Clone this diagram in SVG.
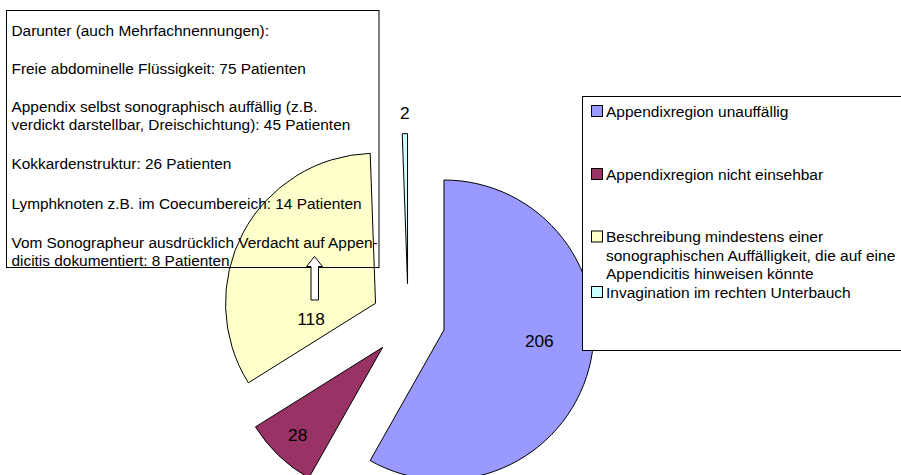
<svg xmlns="http://www.w3.org/2000/svg" width="901" height="475" viewBox="0 0 901 475">
<style>
.t{font-family:"Liberation Sans",Arial,sans-serif;font-size:15.4px;fill:#000}
.lg{font-family:"Liberation Sans",Arial,sans-serif;font-size:15.5px;fill:#000}
.lab{font-family:"Liberation Sans",Arial,sans-serif;font-size:17.3px;fill:#000;text-anchor:middle}
.sl{stroke:#000;stroke-width:1;stroke-linejoin:round}
.sq{stroke:#000;stroke-width:1}
</style>
<rect width="901" height="475" fill="#fff"/>
<g id="pie">
<g id="slice-blue"><path class="sl" fill="#9999FF" d="M443.98,330.02 L443.98,180.02 A150,150 0 1,1 370.14,460.58 Z"/></g>
<g id="slice-maroon"><path class="sl" fill="#993366" d="M382.63,347.34 L308.79,477.90 A150,150 0 0,1 255.47,426.90 Z"/></g>
<g id="slice-yellow"><path class="sl" fill="#FFFFCC" d="M375.52,303.24 L248.36,382.80 A150,150 0 0,1 370.20,153.33 Z"/></g>
<g id="slice-cyan"><path class="sl" fill="#CCFFFF" d="M407.54,283.61 L402.22,133.70 A150,150 0 0,1 407.54,133.61 Z"/></g>
</g>
<g id="labels">
<text class="lab" x="404.7" y="118.5">2</text>
<text class="lab" x="539.3" y="347">206</text>
<text class="lab" x="311" y="325">118</text>
<text class="lab" x="297.7" y="440.5">28</text>
</g>
<g id="textbox">
<rect x="6.5" y="10.5" width="372.5" height="257" fill="none" stroke="#000" stroke-width="1"/>
<text class="t" x="11.5" y="36">Darunter (auch Mehrfachnennungen):</text>
<text class="t" x="11.5" y="73.5">Freie abdominelle Flüssigkeit: 75 Patienten</text>
<text class="t" x="11.5" y="112">Appendix selbst sonographisch auffällig (z.B.</text>
<text class="t" x="11.5" y="130.3">verdickt darstellbar, Dreischichtung): 45 Patienten</text>
<text class="t" x="11.5" y="169.3">Kokkardenstruktur: 26 Patienten</text>
<text class="t" x="11.5" y="208.5">Lymphknoten z.B. im Coecumbereich: 14 Patienten</text>
<text class="t" x="11.5" y="247.5">Vom Sonographeur ausdrücklich Verdacht auf Appen-</text>
<text class="t" x="11.5" y="265.5">dicitis dokumentiert: 8 Patienten</text>
</g>
<g id="connectors">
<polygon id="arrow" points="314.5,256.5 322.5,266.5 318.5,266.5 318.5,300 311,300 311,266.5 306.5,266.5" fill="#fff" stroke="#000" stroke-width="1" stroke-linejoin="miter"/>
</g>
<g id="legend">
<rect x="582.5" y="96.5" width="330" height="254" fill="#fff" stroke="#000" stroke-width="1"/>
<rect class="sq" x="591.5" y="105.5" width="11" height="11" fill="#9999FF"/>
<text class="lg" x="606" y="117">Appendixregion unauffällig</text>
<rect class="sq" x="591.5" y="168.5" width="11" height="11" fill="#993366"/>
<text class="lg" x="606" y="180">Appendixregion nicht einsehbar</text>
<rect class="sq" x="591.5" y="231" width="11" height="11" fill="#FFFFCC"/>
<text class="lg" x="606" y="242">Beschreibung mindestens einer</text>
<text class="lg" x="606" y="260.5">sonographischen Auffälligkeit, die auf eine</text>
<text class="lg" x="606" y="279">Appendicitis hinweisen könnte</text>
<rect class="sq" x="591.5" y="286.5" width="11" height="11" fill="#CCFFFF"/>
<text class="lg" x="606" y="297.5">Invagination im rechten Unterbauch</text>
</g>
</svg>
